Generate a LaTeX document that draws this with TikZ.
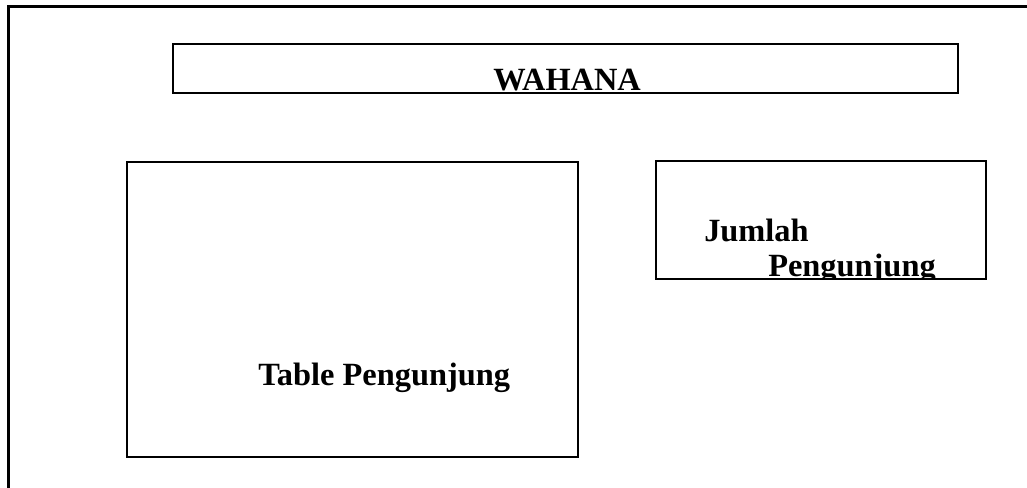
\documentclass[tikz,border=0pt]{standalone}
\usepackage{fontspec}
\setmainfont{Liberation Serif}
\begin{document}
\begin{tikzpicture}[x=0.75pt,y=-0.75pt,
  frame/.style={draw=black,line width=1.7pt},
  lbl/.style={inner sep=0pt,anchor=base west,font=\fontsize{24.3pt}{29pt}\selectfont\bfseries},
  boxnode/.style={frame,inner sep=0pt,outer sep=0pt,anchor=north west}]
\useasboundingbox (0,0) rectangle (1027,487);
% outer frame (left and top edges run off the picture)
\coordinate (ob) at (8.5,490);
\coordinate (oc) at (8.5,6.5);
\coordinate (or) at (1027,6.5);
\draw[frame] (ob) -- (oc) -- (or);
% boxes
\node[boxnode,minimum width=785*0.75pt,minimum height=49*0.75pt] (wahana) at (173,44) {};
\node[boxnode,minimum width=451*0.75pt,minimum height=295*0.75pt] (table) at (127,162) {};
\node[boxnode,minimum width=330*0.75pt,minimum height=118*0.75pt] (jumlah) at (656,161) {};
% texts
\node[lbl] (twahana) at (493,90) {WAHANA};
\node[lbl] (ttable) at (258,385) {Table Pengunjung};
\node[lbl] (tjumlah) at (704,241) {Jumlah};
\begin{scope}
  \clip (jumlah.north west) rectangle (jumlah.south east);
  \node[lbl] (tpeng) at (768,276) {Pengunjung};
\end{scope}
\draw[frame] (jumlah.north west) rectangle (jumlah.south east);
\end{tikzpicture}
\end{document}
